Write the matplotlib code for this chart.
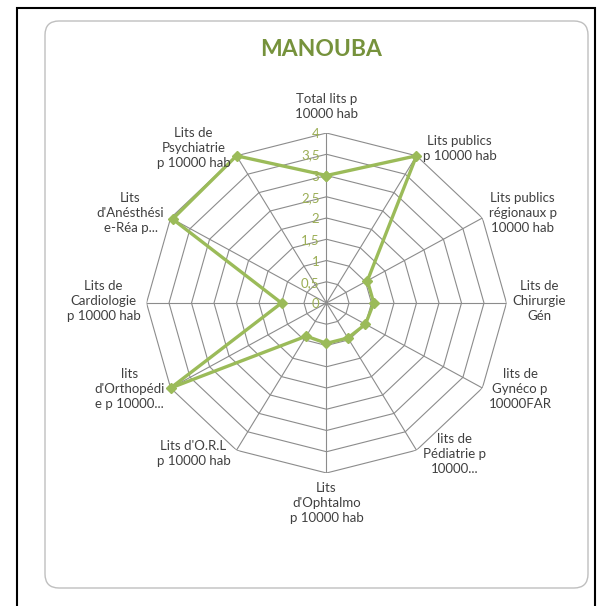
import numpy as np
import matplotlib
matplotlib.use("Agg")
import matplotlib.pyplot as plt
from matplotlib.patches import Rectangle, FancyBboxPatch
from matplotlib.transforms import IdentityTransform

# categories, clockwise from the top
categories = ["Total lits p\n10000 hab", "Lits publics\np 10000 hab",
              "Lits publics\nrégionaux p\n10000 hab", "Lits de\nChirurgie\nGén",
              "lits de\nGynéco p\n10000FAR", "lits de\nPédiatrie p\n10000...",
              "Lits\nd'Ophtalmo\np 10000 hab", "Lits d'O.R.L\np 10000 hab",
              "lits\nd'Orthopédi\ne p 10000...", "Lits de\nCardiologie\np 10000 hab",
              "Lits\nd'Anésthési\ne-Réa p...", "Lits de\nPsychiatrie\np 10000 hab"]
values = [3.0, 4.0, 1.05, 1.05, 1.0, 0.95, 0.95, 0.9, 4.0, 1.0, 3.95, 4.0]
ticks = [0, 0.5, 1, 1.5, 2, 2.5, 3, 3.5, 4]
tick_labels = ["0", "0,5", "1", "1,5", "2", "2,5", "3", "3,5", "4"]

plt.rcParams['font.family'] = ['Lato', 'DejaVu Sans']

fig = plt.figure(figsize=(5.97, 6.06), dpi=100)

# frames
fig.patches.append(Rectangle((17, -10), 578, 608, transform=IdentityTransform(),
                             fill=False, edgecolor='black', lw=1.5))
fig.patches.append(FancyBboxPatch((45, 18), 543, 567, boxstyle="round,pad=0,rounding_size=14",
                                  transform=IdentityTransform(), fill=False,
                                  edgecolor='#bfbfbf', lw=1))

fig.text(321 / 597, 1 - 49 / 606, "MANOUBA", color='#76923c', fontsize=16.5,
         fontweight='bold', ha='center', va='center')

ax = fig.add_axes([0.2454, 0.2195, 0.603, 0.561], projection='polar')
ax.set_aspect('auto')
ax.set_theta_zero_location('N')
ax.set_theta_direction(-1)
ax.set_ylim(0, 4)
ax.grid(False)
ax.set_xticks([])
ax.set_yticks([])
ax.spines['polar'].set_visible(False)
ax.patch.set_visible(False)

n = len(categories)
theta = np.arange(n) * 2 * np.pi / n
theta_c = np.append(theta, theta[0])

# polygon grid
for t in ticks[1:]:
    ax.plot(theta_c, [t] * (n + 1), color='#8c8c8c', lw=0.8, zorder=1)
for th in theta:
    ax.plot([th, th], [0, 4], color='#8c8c8c', lw=0.8, zorder=1)

# data
vals_c = values + [values[0]]
ax.plot(theta_c, vals_c, color='#9bbb59', lw=2.4, marker='D', markersize=5.5,
        zorder=3, clip_on=False)

# radial tick labels
for t, lab in zip(ticks, tick_labels):
    ax.annotate(lab, xy=(0, t), xytext=(-5, -1), textcoords='offset points',
                ha='right', va='center', fontsize=9.5, color='#9bae55')

# category labels
for th, lab in zip(theta, categories):
    s, c = np.sin(th), np.cos(th)
    if abs(s) < 0.01:
        ha = 'center'
        va = 'bottom' if c > 0 else 'top'
        off = (0, 9.5) if c > 0 else (0, -6.5)
    else:
        ha = 'left' if s > 0 else 'right'
        va = 'center'
        off = (4.5 * np.sign(s), 1.5 + 4.5 * c)
    ax.annotate(lab, xy=(th, 4), xytext=off, textcoords='offset points',
                ha=ha, va=va, multialignment='center',
                fontsize=9.5, color='#404040', linespacing=1.3,
                annotation_clip=False)

fig.savefig("out.png", dpi=100)
